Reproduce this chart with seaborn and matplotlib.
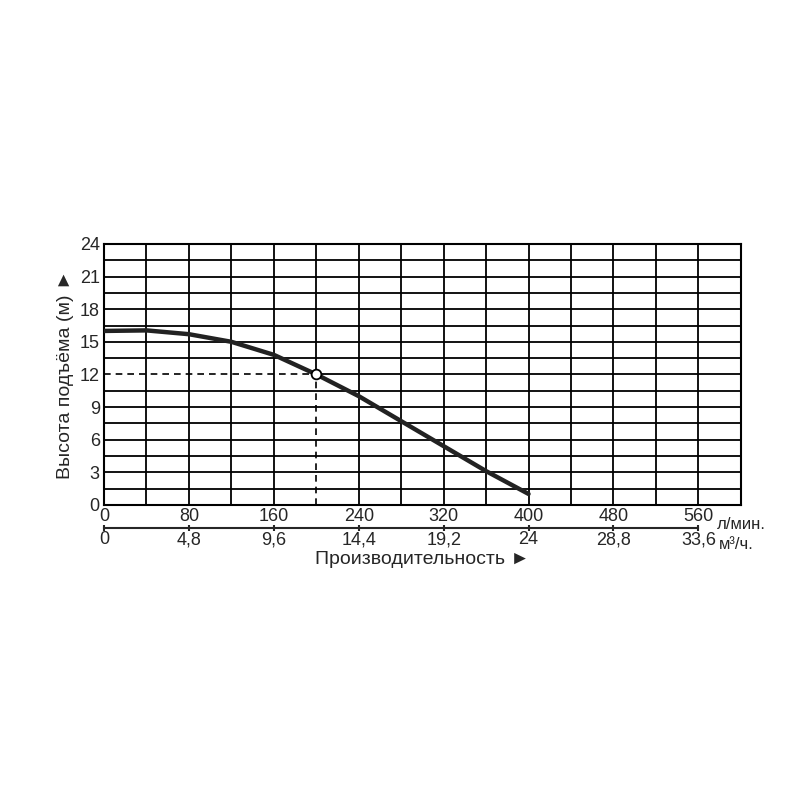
import matplotlib
matplotlib.use('Agg')
import matplotlib.pyplot as plt
import seaborn as sns
import numpy as np

# pump curve
flow = [0, 40, 80, 120, 160, 200, 240, 280, 320, 360, 400]
head = [16, 16.05, 15.7, 15.0, 13.8, 12.0, 10.0, 7.7, 5.4, 3.1, 1.0]
work_q, work_h = 200, 12
lmin_ticks = [0, 80, 160, 240, 320, 400, 480, 560]
lmin_labels = ['0', '80', '160', '240', '320', '400', '480', '560']
m3h_labels = ['0', '4,8', '9,6', '14,4', '19,2', '24', '28,8', '33,6']
y_ticks = [0, 3, 6, 9, 12, 15, 18, 21, 24]

sns.set_style('white')
plt.rcParams['font.family'] = ['Liberation Sans', 'DejaVu Sans']

fig = plt.figure(figsize=(8, 8), dpi=100)
ax = fig.add_axes([0.13, 0.369, 0.796, 0.326])

# grid; the parts under the dashed work-point lines are left out
for x in np.arange(40, 600, 40):
    if x == work_q:
        ax.plot([x, x], [work_h, 24], color='black', lw=1.3, zorder=1)
    else:
        ax.axvline(x, color='black', lw=1.3, zorder=1)
for y in np.arange(1.5, 24, 1.5):
    if y == work_h:
        ax.plot([work_q, 600], [y, y], color='black', lw=1.3, zorder=1)
    else:
        ax.axhline(y, color='black', lw=1.3, zorder=1)

sns.lineplot(x=flow, y=head, ax=ax, color='#222222', lw=3.2, zorder=3,
             solid_joinstyle='round', solid_capstyle='round')
ax.plot([0, work_q], [work_h, work_h], ls=(0, (4, 3)), color='black', lw=1.2, zorder=2)
ax.plot([work_q, work_q], [0, work_h], ls=(0, (4, 3)), color='black', lw=1.2, zorder=2)
ax.plot([work_q], [work_h], 'o', mfc='white', mec='black', ms=7, mew=1.3, zorder=4)

ax.set_xlim(0, 600)
ax.set_ylim(0, 24)
ax.set_yticks(y_ticks)
ax.set_yticklabels([str(v) for v in y_ticks], fontsize=13)
ax.tick_params(axis='y', length=0, pad=3)
ax.set_xticks(lmin_ticks)
ax.set_xticklabels(lmin_labels, fontsize=13)
ax.tick_params(axis='x', length=0, pad=2)
ax.text(577, -0.045, 'л/мин.', transform=ax.get_xaxis_transform(),
        fontsize=12, va='top', ha='left')
for s in ax.spines.values():
    s.set_linewidth(1.5)
    s.set_color('black')
ax.set_ylabel('Высота подъёма (м) ►', fontsize=14, labelpad=4)

sec = ax.secondary_xaxis(-0.09)
sec.set_xticks(lmin_ticks)
sec.set_xticklabels(m3h_labels, fontsize=13)
sec.tick_params(axis='x', length=4, width=1.5, direction='inout', pad=0)
sec.spines['bottom'].set_linewidth(1.5)
sec.spines['bottom'].set_bounds(0, 560)
ax.text(579, -0.125, 'м³/ч.', transform=ax.get_xaxis_transform(),
        fontsize=12, va='top', ha='left')
sec.set_xlabel('Производительность ►', fontsize=14, labelpad=2)

fig.savefig('out.png', dpi=100)
